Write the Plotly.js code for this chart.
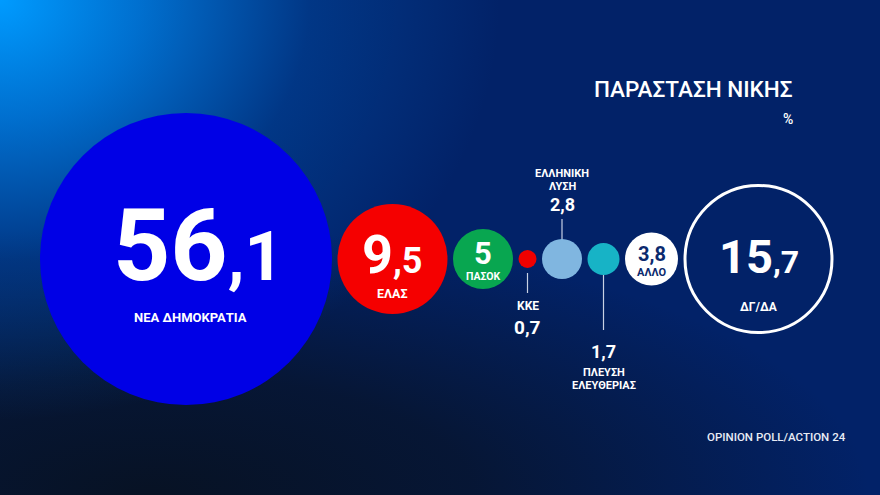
<!DOCTYPE html>
<html><head><meta charset="utf-8">
<script src="https://cdn.plot.ly/plotly-3.0.1.min.js"></script>
<style>
html,body{margin:0;padding:0;}
body{width:880px;height:495px;overflow:hidden;
background:
 radial-gradient(ellipse 500px 420px at 0px 0px, rgba(0,155,255,1) 0%, rgba(0,125,225,0.85) 28%, rgba(0,80,170,0.45) 62%, rgba(0,40,110,0) 100%),
 radial-gradient(ellipse 720px 270px at 150px 495px, rgba(7,18,36,1) 0%, rgba(7,20,44,0.85) 45%, rgba(5,25,70,0) 100%),
 #022268;}
#chart{width:880px;height:495px;}
</style></head>
<body><div id="chart"></div>
<script>
// ---- data ----
const parties = ['ΝΕΑ ΔΗΜΟΚΡΑΤΙΑ','ΕΛΑΣ','ΠΑΣΟΚ','ΚΚΕ','ΕΛΛΗΝΙΚΗ ΛΥΣΗ','ΠΛΕΥΣΗ ΕΛΕΥΘΕΡΙΑΣ','ΑΛΛΟ','ΔΓ/ΔΑ'];
const values = [56.1, 9.5, 5, 0.7, 2.8, 1.7, 3.8, 15.7];
const chartTitle = 'ΠΑΡΑΣΤΑΣΗ ΝΙΚΗΣ';
const unitLabel = '%';
const sourceLabel = 'OPINION POLL/ACTION 24';

// ---- styles ----
const colors = ['#0000e6','#f50000','#08a650','#f00000','#80b6e0','#17b3c6','#ffffff','rgba(0,0,0,0)'];
const diam = [292,110,60,18,40,32,53,147];
const outlineW = [0,0,0,0,0,0,0,3];
const textColor = ['#fff','#fff','#fff','#fff','#fff','#fff','#0b2a6e','#fff'];
const wrapLabel = [false,false,false,false,true,true,false,false];
const textStyle = [
 {pos:'in', num:100, dec:68, numDy:-14, lab:13, labDy:[58], dx:12, labDx:4},
 {pos:'in', num:54, dec:36, numDy:-5, lab:12.5, labDy:[34]},
 {pos:'in', num:31, dec:31, numDy:-6, lab:10.5, labDy:[17]},
 {pos:'out', num:19, dec:19, numDy:68, lab:12, labDy:[47], line:[14,34]},
 {pos:'out', num:18, dec:18, numDy:-55, lab:11, labDy:[-86,-73], line:[-3,-40]},
 {pos:'out', num:18, dec:18, numDy:92, lab:11, labDy:[113,126], line:[3,71]},
 {pos:'in', num:20, dec:20, numDy:-5.5, lab:11, labDy:[13]},
 {pos:'in', num:47, dec:32, numDy:-2.5, lab:12, labDy:[48]}
];
const cy = 259, startX = 40, gap = 5.5;
const FONT = 'Roboto, "Noto Sans", sans-serif';

// packed centres
const cx = [];
let edge = startX;
diam.forEach((d,i)=>{ const r = d/2 + outlineW[i]/2; cx.push(edge + r); edge += 2*r + gap; });

const bubbles = {
  type:'scatter', mode:'markers', x:cx, y:cx.map(()=>cy),
  marker:{size:diam, sizemode:'diameter', color:colors, opacity:1,
          line:{width:outlineW, color:'#ffffff'}},
  hoverinfo:'skip', showlegend:false
};
const lx = [], ly = [];
textStyle.forEach((s,i)=>{ if(s.line){ lx.push(cx[i],cx[i],null); ly.push(cy+s.line[0],cy+s.line[1],null);} });
const leaders = {type:'scatter', mode:'lines', x:lx, y:ly, line:{color:'rgba(235,240,250,0.85)', width:1.2}, hoverinfo:'skip', showlegend:false};

const ann = [];
values.forEach((v,i)=>{
  const s = textStyle[i];
  const str = String(v).replace('.', ',');
  let txt;
  if (str.includes(',') && s.dec !== s.num) {
    const p = str.split(',');
    txt = p[0] + '<span style="font-size:' + s.dec + 'px">,' + p[1] + '</span>';
  } else txt = str;
  ann.push({x:cx[i], y:cy + s.numDy, xref:'x', yref:'y', text:txt, showarrow:false,
    xanchor:'center', yanchor:'middle', xshift:s.dx||0,
    font:{family:FONT, size:s.num, color:textColor[i], weight:'bold'}});
  const lines = wrapLabel[i] ? parties[i].split(' ') : [parties[i]];
  lines.forEach((ln,k)=>{
    ann.push({x:cx[i], y:cy + s.labDy[k], xref:'x', yref:'y', text:ln, showarrow:false,
      xanchor:'center', yanchor:'middle', xshift:s.labDx||0,
      font:{family:FONT, size:s.lab, color:textColor[i], weight:'bold'}});
  });
});
ann.push({x:795, y:89, xref:'x', yref:'y', text:chartTitle, showarrow:false, xanchor:'right', yanchor:'middle',
  font:{family:FONT, size:22.5, color:'#fff', weight:500}});
ann.push({x:795, y:119, xref:'x', yref:'y', text:unitLabel, showarrow:false, xanchor:'right', yanchor:'middle',
  font:{family:FONT, size:14, color:'#fff', weight:500}});
ann.push({x:848, y:437, xref:'x', yref:'y', text:sourceLabel, showarrow:false, xanchor:'right', yanchor:'middle',
  font:{family:FONT, size:11.5, color:'#e8ecf5', weight:500}});

const layout = {
  width:880, height:495, margin:{l:0,r:0,t:0,b:0},
  paper_bgcolor:'rgba(0,0,0,0)', plot_bgcolor:'rgba(0,0,0,0)',
  xaxis:{range:[0,880], visible:false, fixedrange:true},
  yaxis:{range:[495,0], visible:false, fixedrange:true},
  annotations:ann, showlegend:false
};
Plotly.newPlot('chart', [leaders, bubbles], layout, {staticPlot:true, displayModeBar:false});
</script>
</body></html>
